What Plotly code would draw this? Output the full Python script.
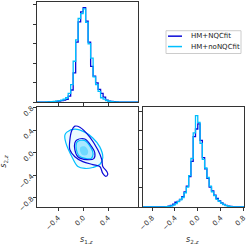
import numpy as np
import plotly.graph_objects as go

# ---------------- data ----------------
labels = ["HM+NQCfit", "HM+noNQCfit"]
colors = ["#0a0ad8", "#00bfff"]

# histogram bins (centres, width 0.04)
bin_w = 0.04
s1_centres = np.round(np.arange(-0.74, 0.87, 0.04), 2)
s2_centres = np.round(np.arange(-0.98, 0.83, 0.04), 2)

s1_nqc = [0, 0, 0, 0,
          0.00, 0.01, 0.02, 0.02, 0.03, 0.05, 0.07, 0.10, 0.14, 0.30, 0.62, 1.50, 3.08, 4.13, 4.64,
          4.86, 4.17, 3.08, 1.84, 1.33, 0.99, 0.65, 0.45, 0.25, 0.10, 0.05, 0.03, 0.02, 0.01, 0.00,
          0, 0, 0, 0, 0, 0, 0]
s1_nonqc = [0, 0, 0, 0,
            0.01, 0.01, 0.02, 0.03, 0.05, 0.07, 0.10, 0.15, 0.22, 0.45, 0.90, 2.10, 3.20, 4.30, 4.55,
            4.80, 4.10, 3.00, 2.26, 1.30, 0.90, 0.55, 0.22, 0.15, 0.08, 0.04, 0.02, 0.01, 0.01, 0.00,
            0, 0, 0, 0, 0, 0, 0]
s2_nqc = [0, 0, 0, 0, 0, 0, 0, 0, 0, 0,
          0.01, 0.02, 0.04, 0.08, 0.15, 0.25, 0.30, 0.40, 0.55, 0.80, 1.10, 1.60, 2.40, 3.70, 4.10,
          4.37, 3.50, 2.60, 2.00, 1.50, 1.05, 0.85, 0.62, 0.45, 0.32, 0.22, 0.14, 0.09, 0.05, 0.03,
          0, 0, 0, 0, 0, 0]
s2_nonqc = [0, 0, 0, 0, 0, 0, 0, 0, 0, 0,
            0.01, 0.02, 0.03, 0.06, 0.10, 0.18, 0.28, 0.38, 0.50, 0.75, 1.05, 1.65, 2.55, 3.90, 4.80,
            4.45, 3.35, 2.50, 2.05, 1.55, 1.10, 0.80, 0.60, 0.40, 0.30, 0.20, 0.12, 0.07, 0.04, 0.02,
            0, 0, 0, 0, 0, 0]

# 2D credible contours (s1z, s2z)
nqc_outer_x = [-0.133, -0.053, 0.107, 0.235, 0.299, 0.315, 0.379, 0.395, 0.363, 0.315, 0.267, 0.155, -0.005, -0.133, -0.213, -0.213, -0.181]
nqc_outer_y = [0.470, 0.452, 0.278, 0.052, -0.122, -0.244, -0.331, -0.383, -0.418, -0.365, -0.244, -0.209, -0.157, -0.070, 0.052, 0.226, 0.400]
nqc_inner_x = [-0.101, 0.027, 0.139, 0.187, 0.171, 0.059, -0.085, -0.133, -0.133]
nqc_inner_y = [0.226, 0.244, 0.104, 0.000, -0.104, -0.122, -0.070, 0.052, 0.174]
nonqc_outer_x = [-0.261, -0.133, 0.027, 0.155, 0.267, 0.315, 0.267, 0.155, 0.027, -0.085, -0.181, -0.277, -0.293]
nonqc_outer_y = [0.365, 0.418, 0.365, 0.261, 0.104, -0.087, -0.209, -0.261, -0.278, -0.244, -0.070, 0.174, 0.313]
nonqc_inner_x = [-0.09, 0.02, 0.12, 0.16, 0.13, 0.03, -0.07, -0.11, -0.11]
nonqc_inner_y = [0.20, 0.22, 0.10, -0.02, -0.10, -0.10, -0.05, 0.06, 0.16]
nonqc_core_x = [-0.04, 0.03, 0.08, 0.06, -0.01, -0.05]
nonqc_core_y = [0.10, 0.11, 0.03, -0.04, -0.04, 0.03]

s1_ticks = [-0.4, 0.0, 0.4]
s2_ticks = [-0.8, -0.4, 0.0, 0.4, 0.8]
s1_range = [-0.74, 0.88]
s2_range = [-0.96, 0.81]

# ---------------- figure ----------------
def step_xy(centres, vals):
    edges = list(np.round(np.asarray(centres) - bin_w / 2, 3)) + [round(centres[-1] + bin_w / 2, 3)]
    ys = list(vals) + [vals[-1]]
    return edges, ys

def closed(a):
    return list(a) + [a[0]]

fig = go.Figure()

for vals, col in [(s1_nqc, colors[0]), (s1_nonqc, colors[1])]:
    ex, ey = step_xy(s1_centres, vals)
    fig.add_trace(go.Scatter(x=ex, y=ey, mode="lines", line=dict(color=col, width=1.3, shape="hv"),
                             xaxis="x", yaxis="y", showlegend=False, hoverinfo="skip"))

for vals, col in [(s2_nqc, colors[0]), (s2_nonqc, colors[1])]:
    ex, ey = step_xy(s2_centres, vals)
    fig.add_trace(go.Scatter(x=ex, y=ey, mode="lines", line=dict(color=col, width=1.3, shape="hv"),
                             xaxis="x3", yaxis="y3", showlegend=False, hoverinfo="skip"))

fig.add_trace(go.Scatter(x=closed(nonqc_outer_x), y=closed(nonqc_outer_y), mode="lines",
                         line=dict(color=colors[1], width=1.2, shape="spline"), fill="toself",
                         fillcolor="rgba(0,191,255,0.08)", xaxis="x2", yaxis="y2", showlegend=False))
fig.add_trace(go.Scatter(x=closed(nonqc_inner_x), y=closed(nonqc_inner_y), mode="lines",
                         line=dict(color=colors[1], width=1.2, shape="spline"), fill="toself",
                         fillcolor="rgba(0,191,255,0.28)", xaxis="x2", yaxis="y2", showlegend=False))
fig.add_trace(go.Scatter(x=closed(nonqc_core_x), y=closed(nonqc_core_y), mode="lines",
                         line=dict(color="rgba(0,0,0,0)", width=0, shape="spline"), fill="toself",
                         fillcolor="rgba(0,191,255,0.35)", xaxis="x2", yaxis="y2", showlegend=False))
fig.add_trace(go.Scatter(x=closed(nqc_outer_x), y=closed(nqc_outer_y), mode="lines",
                         line=dict(color=colors[0], width=1.2, shape="spline"),
                         xaxis="x2", yaxis="y2", showlegend=False))
fig.add_trace(go.Scatter(x=closed(nqc_inner_x), y=closed(nqc_inner_y), mode="lines",
                         line=dict(color=colors[0], width=1.2, shape="spline"),
                         xaxis="x2", yaxis="y2", showlegend=False))

ax_common = dict(showline=True, linecolor="#333", linewidth=1, mirror=True, ticks="outside",
                 ticklen=3, tickcolor="#333", showgrid=False, zeroline=False,
                 tickfont=dict(family="DejaVu Sans", size=7, color="#333"))
L = [0, 0.488]
R = [0.512, 1]

fig.update_layout(
    width=249, height=244,
    margin=dict(l=37, r=5, t=0, b=37),
    paper_bgcolor="white", plot_bgcolor="white",
    xaxis=dict(domain=L, range=s1_range, tickvals=s1_ticks, showticklabels=False, anchor="y", **ax_common),
    yaxis=dict(domain=R, range=[0, 5.15], tickvals=[0, 1, 2, 3, 4, 5], showticklabels=False, anchor="x", **ax_common),
    xaxis2=dict(domain=L, range=s1_range, tickvals=s1_ticks, tickformat=".1f", tickangle=-45, anchor="y2", **ax_common),
    yaxis2=dict(domain=L, range=s2_range, tickvals=s2_ticks, tickformat=".1f", tickangle=-45, anchor="x2", **ax_common),
    xaxis3=dict(domain=R, range=s2_range, tickvals=s2_ticks, tickformat=".1f", tickangle=-45, anchor="y3", **ax_common),
    yaxis3=dict(domain=L, range=[0, 5.26], tickvals=[0, 1, 2, 3, 4, 5], showticklabels=False, anchor="x3", **ax_common),
    showlegend=False,
)

lab_font = dict(family="DejaVu Sans", size=8, color="#333")
fig.add_annotation(text="<i>s</i><sub>1,<i>z</i></sub>", xref="paper", yref="paper", x=0.242, y=-0.16,
                   showarrow=False, font=lab_font, xanchor="center", yanchor="middle")
fig.add_annotation(text="<i>s</i><sub>2,<i>z</i></sub>", xref="paper", yref="paper", x=0.754, y=-0.16,
                   showarrow=False, font=lab_font, xanchor="center", yanchor="middle")
fig.add_annotation(text="<i>s</i><sub>2,<i>z</i></sub>", xref="paper", yref="paper", x=-0.158, y=0.227,
                   showarrow=False, font=lab_font, textangle=-90, xanchor="center", yanchor="middle")

def px_x(p):
    return (p - 37) / 207
def px_y(p):
    return 1 - p / 207

fig.add_shape(type="rect", xref="paper", yref="paper", x0=px_x(166), x1=px_x(241), y0=px_y(52), y1=px_y(29),
              line=dict(color="#cccccc", width=1), fillcolor="white")
for i, (lab, col) in enumerate(zip(labels, colors)):
    yy = px_y(34.5 + i * 10.5)
    fig.add_shape(type="line", xref="paper", yref="paper", x0=px_x(168), x1=px_x(182), y0=yy, y1=yy,
                  line=dict(color=col, width=1.5))
    fig.add_annotation(text=lab, xref="paper", yref="paper", x=px_x(189), y=yy, showarrow=False,
                       xanchor="left", yanchor="middle", font=dict(family="DejaVu Sans", size=7, color="#222"))

fig.write_html("out.html", config={"displayModeBar": False},
               post_script="document.body.style.margin='0';document.body.style.padding='0';")
